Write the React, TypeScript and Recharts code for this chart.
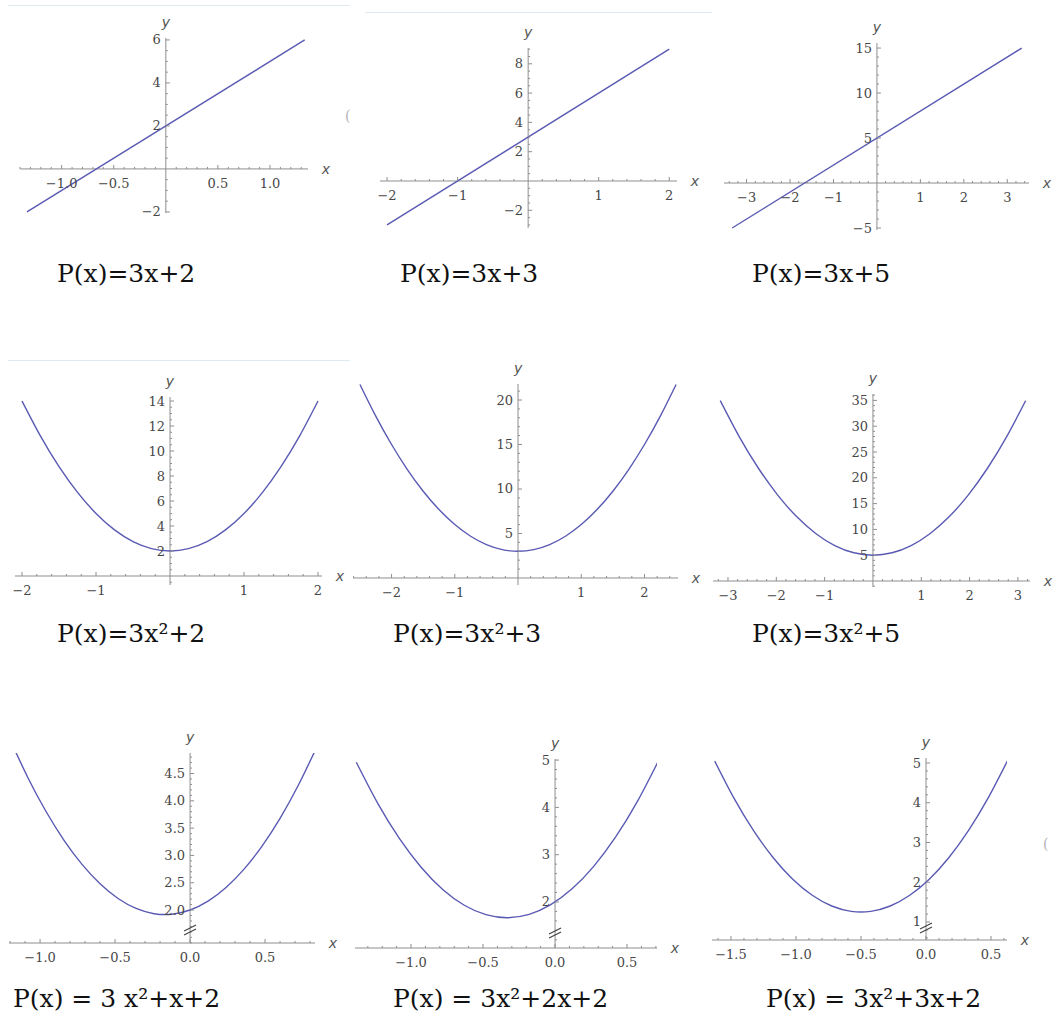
import React from "react";
import {
  LineChart,
  Line,
  XAxis,
  YAxis,
  ReferenceLine,
  ReferenceDot,
} from "recharts";

const CURVE = "#5a5ab4";
const AXIS = "#8e8e8e";
const TICK_TEXT = "#474747";
const TICK_FONT = "'DejaVu Serif', serif";
const CAPTION_FONT = "'DejaVu Serif', serif";

// P(x)=3x+2
const p1X = [-1.333, 1.333];
const p1Y = [-2, 6];
const p1XRange = [-1.4, 1.365];
const p1YRange = [-2.05, 6.09];
const p1XTicks = [-1, -0.5, 0.5, 1];
const p1XLabels = ["−1.0", "−0.5", "0.5", "1.0"];
const p1YTicks = [-2, 2, 4, 6];
const p1YLabels = ["−2", "2", "4", "6"];

// P(x)=3x+3
const p2X = [-2, 2];
const p2Y = [-3, 9];
const p2XRange = [-2.1, 2.11];
const p2YRange = [-3.21, 9.08];
const p2XTicks = [-2, -1, 1, 2];
const p2XLabels = ["−2", "−1", "1", "2"];
const p2YTicks = [-2, 2, 4, 6, 8];
const p2YLabels = ["−2", "2", "4", "6", "8"];

// P(x)=3x+5
const p3X = [-3.333, 3.333];
const p3Y = [-5, 15];
const p3XRange = [-3.52, 3.5];
const p3YRange = [-5.22, 15.56];
const p3XTicks = [-3, -2, -1, 1, 2, 3];
const p3XLabels = ["−3", "−2", "−1", "1", "2", "3"];
const p3YTicks = [-5, 5, 10, 15];
const p3YLabels = ["−5", "5", "10", "15"];

// P(x)=3x²+2
const p4X = [-2, -1.75, -1.5, -1.25, -1, -0.75, -0.5, -0.25, 0, 0.25, 0.5, 0.75, 1, 1.25, 1.5, 1.75, 2];
const p4Y = [14, 11.1875, 8.75, 6.6875, 5, 3.6875, 2.75, 2.1875, 2, 2.1875, 2.75, 3.6875, 5, 6.6875, 8.75, 11.1875, 14];
const p4XRange = [-2.095, 2.054];
const p4YRange = [-0.72, 14.32];
const p4XTicks = [-2, -1, 1, 2];
const p4XLabels = ["−2", "−1", "1", "2"];
const p4YTicks = [2, 4, 6, 8, 10, 12, 14];
const p4YLabels = ["2", "4", "6", "8", "10", "12", "14"];

// P(x)=3x²+3
const p5X = [-2.5, -2.25, -2, -1.75, -1.5, -1.25, -1, -0.75, -0.5, -0.25, 0, 0.25, 0.5, 0.75, 1, 1.25, 1.5, 1.75, 2, 2.25, 2.5];
const p5Y = [21.75, 18.1875, 15, 12.1875, 9.75, 7.6875, 6, 4.6875, 3.75, 3.1875, 3, 3.1875, 3.75, 4.6875, 6, 7.6875, 9.75, 12.1875, 15, 18.1875, 21.75];
const p5XRange = [-2.61, 2.53];
const p5YRange = [-0.79, 21.8];
const p5XTicks = [-2, -1, 1, 2];
const p5XLabels = ["−2", "−1", "1", "2"];
const p5YTicks = [5, 10, 15, 20];
const p5YLabels = ["5", "10", "15", "20"];

// P(x)=3x²+5
const p6X = [-3.16, -2.765, -2.37, -1.975, -1.58, -1.185, -0.79, -0.395, 0, 0.395, 0.79, 1.185, 1.58, 1.975, 2.37, 2.765, 3.16];
const p6Y = [34.957, 27.936, 21.851, 16.702, 12.489, 9.213, 6.872, 5.468, 5, 5.468, 6.872, 9.213, 12.489, 16.702, 21.851, 27.936, 34.957];
const p6XRange = [-3.31, 3.25];
const p6YRange = [-1.16, 36.24];
const p6XTicks = [-3, -2, -1, 1, 2, 3];
const p6XLabels = ["−3", "−2", "−1", "1", "2", "3"];
const p6YTicks = [5, 10, 15, 20, 25, 30, 35];
const p6YLabels = ["5", "10", "15", "20", "25", "30", "35"];

// P(x) = 3 x²+x+2
const p7X = [-1.2, -1.08, -0.96, -0.84, -0.72, -0.6, -0.48, -0.36, -0.24, -0.12, 0, 0.12, 0.24, 0.36, 0.48, 0.6, 0.72, 0.84];
const p7Y = [5.12, 4.4192, 3.8048, 3.2768, 2.8352, 2.48, 2.2112, 2.0288, 1.9328, 1.9232, 2, 2.1632, 2.4128, 2.7488, 3.1712, 3.68, 4.2752, 4.9568];
const p7XRange = [-1.207, 0.833];
const p7YRange = [1.396, 4.876];
const p7XTicks = [-1, -0.5, 0, 0.5];
const p7XLabels = ["−1.0", "−0.5", "0.0", "0.5"];
const p7YTicks = [2, 2.5, 3, 3.5, 4, 4.5];
const p7YLabels = ["2.0", "2.5", "3.0", "3.5", "4.0", "4.5"];
const p7Break = 1.634;

// P(x) = 3x²+2x+2
const p8X = [-1.38, -1.23, -1.08, -0.93, -0.78, -0.63, -0.48, -0.33, -0.18, -0.03, 0.12, 0.27, 0.42, 0.57, 0.72];
const p8Y = [4.9532, 4.0787, 3.3392, 2.7347, 2.2652, 1.9307, 1.7312, 1.6667, 1.7372, 1.9427, 2.2832, 2.7587, 3.3692, 4.1147, 4.9952];
const p8XRange = [-1.389, 0.708];
const p8YRange = [1.027, 5.023];
const p8XTicks = [-1, -0.5, 0, 0.5];
const p8XLabels = ["−1.0", "−0.5", "0.0", "0.5"];
const p8YTicks = [2, 3, 4, 5];
const p8YLabels = ["2", "3", "4", "5"];
const p8Break = 1.345;

// P(x) = 3x²+3x+2
const p9X = [-1.625, -1.475, -1.325, -1.175, -1.025, -0.875, -0.725, -0.575, -0.425, -0.275, -0.125, 0.025, 0.175, 0.325, 0.475, 0.625];
const p9Y = [5.0469, 4.1019, 3.2919, 2.6169, 2.0769, 1.6719, 1.4019, 1.2669, 1.2669, 1.4019, 1.6719, 2.0769, 2.6169, 3.2919, 4.1019, 5.0469];
const p9XRange = [-1.646, 0.623];
const p9YRange = [0.547, 5.126];
const p9XTicks = [-1.5, -1, -0.5, 0, 0.5];
const p9XLabels = ["−1.5", "−1.0", "−0.5", "0.0", "0.5"];
const p9YTicks = [1, 2, 3, 4, 5];
const p9YLabels = ["1", "2", "3", "4", "5"];
const p9Break = 0.849;

const captions = [
  "P(x)=3x+2",
  "P(x)=3x+3",
  "P(x)=3x+5",
  "P(x)=3x²+2",
  "P(x)=3x²+3",
  "P(x)=3x²+5",
  "P(x) = 3 x²+x+2",
  "P(x) = 3x²+2x+2",
  "P(x) = 3x²+3x+2",
];

const M = { top: 30, right: 30, bottom: 30, left: 40 };

// box = plot area [left, top, width, height] on the page
const panels: any[] = [
  { xs: p1X, ys: p1Y, xRange: p1XRange, yRange: p1YRange, xTicks: p1XTicks, xLabels: p1XLabels, yTicks: p1YTicks, yLabels: p1YLabels, xMinor: 0.1, yMinor: 0.5, box: [20, 38, 288, 175] },
  { xs: p2X, ys: p2Y, xRange: p2XRange, yRange: p2YRange, xTicks: p2XTicks, xLabels: p2XLabels, yTicks: p2YTicks, yLabels: p2YLabels, xMinor: 0.2, yMinor: 0.5, box: [380, 48, 297, 180] },
  { xs: p3X, ys: p3Y, xRange: p3XRange, yRange: p3YRange, xTicks: p3XTicks, xLabels: p3XLabels, yTicks: p3YTicks, yLabels: p3YLabels, xMinor: 0.2, yMinor: 1, box: [724, 43, 305, 187] },
  { xs: p4X, ys: p4Y, xRange: p4XRange, yRange: p4YRange, xTicks: p4XTicks, xLabels: p4XLabels, yTicks: p4YTicks, yLabels: p4YLabels, xMinor: 0.2, yMinor: 0.5, box: [15, 397, 307, 188] },
  { xs: p5X, ys: p5Y, xRange: p5XRange, yRange: p5YRange, xTicks: p5XTicks, xLabels: p5XLabels, yTicks: p5YTicks, yLabels: p5YLabels, xMinor: 0.2, yMinor: 1, box: [353, 384, 325, 201] },
  { xs: p6X, ys: p6Y, xRange: p6XRange, yRange: p6YRange, xTicks: p6XTicks, xLabels: p6XLabels, yTicks: p6YTicks, yLabels: p6YLabels, xMinor: 0.2, yMinor: 1, box: [713, 394, 317, 193] },
  { xs: p7X, ys: p7Y, xRange: p7XRange, yRange: p7YRange, xTicks: p7XTicks, xLabels: p7XLabels, yTicks: p7YTicks, yLabels: p7YLabels, xMinor: 0.1, yMinor: 0.1, brk: p7Break, box: [9, 753, 306, 190] },
  { xs: p8X, ys: p8Y, xRange: p8XRange, yRange: p8YRange, xTicks: p8XTicks, xLabels: p8XLabels, yTicks: p8YTicks, yLabels: p8YLabels, xMinor: 0.1, yMinor: 0.2, brk: p8Break, box: [355, 759, 302, 189] },
  { xs: p9X, ys: p9Y, xRange: p9XRange, yRange: p9YRange, xTicks: p9XTicks, xLabels: p9XLabels, yTicks: p9YTicks, yLabels: p9YLabels, xMinor: 0.1, yMinor: 0.2, brk: p9Break, box: [712, 758, 295, 182] },
];

// caption [left, top]
const captionPos = [
  [57, 261], [400, 261], [752, 261],
  [57, 621], [393, 621], [752, 621],
  [13, 986], [393, 986], [766, 986],
];

const minorTicks = (range: number[], step: number, majors: number[]) => {
  const out: number[] = [];
  const start = Math.ceil(range[0] / step - 1e-9);
  const end = Math.floor(range[1] / step + 1e-9);
  for (let k = start; k <= end; k++) {
    const v = +(k * step).toFixed(4);
    if (v !== 0 && !majors.some((m) => Math.abs(m - v) < 1e-6)) out.push(v);
  }
  return out;
};

const XTick = (props: any) => {
  const { cx, cy, len, label } = props;
  return (
    <g>
      <line x1={cx} y1={cy} x2={cx} y2={cy - len} stroke={AXIS} strokeWidth={1} />
      {label && (
        <text x={cx} y={cy + 19} textAnchor="middle" fontFamily={TICK_FONT} fontSize={13} fill={TICK_TEXT}>
          {label}
        </text>
      )}
    </g>
  );
};

const YTick = (props: any) => {
  const { cx, cy, len, label } = props;
  return (
    <g>
      <line x1={cx} y1={cy} x2={cx + len} y2={cy} stroke={AXIS} strokeWidth={1} />
      {label && (
        <text x={cx - 5} y={cy + 4.5} textAnchor="end" fontFamily={TICK_FONT} fontSize={13} fill={TICK_TEXT}>
          {label}
        </text>
      )}
    </g>
  );
};

const AxisName = (props: any) => {
  const { cx, cy, dx, dy, name } = props;
  return (
    <text x={cx + dx} y={cy + dy} textAnchor="middle" fontFamily="'DejaVu Sans', sans-serif" fontStyle="italic" fontSize={14} fill="#555">
      {name}
    </text>
  );
};

const BreakMark = (props: any) => {
  const { cx, cy } = props;
  return (
    <g stroke="#444" strokeWidth={1.2}>
      <line x1={cx - 6} y1={cy + 1} x2={cx + 6} y2={cy - 5} />
      <line x1={cx - 6} y1={cy + 5} x2={cx + 6} y2={cy - 1} />
    </g>
  );
};

const Panel = ({ p }: { p: any }) => {
  const data = p.xs.map((x: number, i: number) => ({ x, y: p.ys[i] }));
  const axisY = p.brk !== undefined ? p.yRange[0] : 0;
  const [left, top, w, h] = p.box;
  const xMinor = minorTicks(p.xRange, p.xMinor, p.xTicks);
  const yMinor = minorTicks(p.yRange, p.yMinor, p.yTicks);
  return (
    <div style={{ position: "absolute", left: left - M.left, top: top - M.top }}>
      <LineChart width={w + M.left + M.right} height={h + M.top + M.bottom} data={data} margin={M}>
        <XAxis dataKey="x" type="number" domain={p.xRange} allowDataOverflow hide />
        <YAxis dataKey="y" type="number" domain={p.yRange} allowDataOverflow hide />
        <ReferenceLine y={axisY} stroke={AXIS} strokeWidth={1} ifOverflow="visible" />
        <ReferenceLine x={0} stroke={AXIS} strokeWidth={1} ifOverflow="visible" />
        {xMinor.map((v) => (
          <ReferenceDot key={"xm" + v} x={v} y={axisY} ifOverflow="visible" shape={(s: any) => <XTick cx={s.cx} cy={s.cy} len={2} />} />
        ))}
        {yMinor.map((v) => (
          <ReferenceDot key={"ym" + v} x={0} y={v} ifOverflow="visible" shape={(s: any) => <YTick cx={s.cx} cy={s.cy} len={2} />} />
        ))}
        {p.xTicks.map((v: number, i: number) => (
          <ReferenceDot key={"x" + v} x={v} y={axisY} ifOverflow="visible" shape={(s: any) => <XTick cx={s.cx} cy={s.cy} len={4} label={p.xLabels[i]} />} />
        ))}
        {p.yTicks.map((v: number, i: number) => (
          <ReferenceDot key={"y" + v} x={0} y={v} ifOverflow="visible" shape={(s: any) => <YTick cx={s.cx} cy={s.cy} len={4} label={p.yLabels[i]} />} />
        ))}
        {p.brk !== undefined && (
          <ReferenceDot x={0} y={p.brk} ifOverflow="visible" shape={(s: any) => <BreakMark cx={s.cx} cy={s.cy} />} />
        )}
        <ReferenceDot x={p.xRange[1]} y={axisY} ifOverflow="visible" shape={(s: any) => <AxisName cx={s.cx} cy={s.cy} dx={18} dy={5} name="x" />} />
        <ReferenceDot x={0} y={p.yRange[1]} ifOverflow="visible" shape={(s: any) => <AxisName cx={s.cx} cy={s.cy} dx={0} dy={-11} name="y" />} />
        <Line type="natural" dataKey="y" dot={false} stroke={CURVE} strokeWidth={1.4} isAnimationActive={false} />
      </LineChart>
    </div>
  );
};

export default function App() {
  return (
    <div style={{ position: "absolute", left: 0, top: 0, width: 1053, height: 1023, overflow: "hidden", background: "#fff" }}>
      {/* faint strips left over from the screenshot */}
      <div style={{ position: "absolute", left: 8, top: 5, width: 342, height: 1, background: "#dfeaf0" }} />
      <div style={{ position: "absolute", left: 365, top: 12, width: 347, height: 1, background: "#dfeaf0" }} />
      <div style={{ position: "absolute", left: 8, top: 360, width: 342, height: 1, background: "#dfeaf0" }} />
      <div style={{ position: "absolute", left: 345, top: 108, fontFamily: CAPTION_FONT, fontSize: 14, color: "#b5b5b5" }}>(</div>
      <div style={{ position: "absolute", left: 1043, top: 836, fontFamily: CAPTION_FONT, fontSize: 14, color: "#b5b5b5" }}>(</div>

      {panels.map((p, i) => (
        <Panel key={i} p={p} />
      ))}

      {captions.map((c, i) => (
        <div
          key={c}
          style={{
            position: "absolute",
            left: captionPos[i][0],
            top: captionPos[i][1],
            fontFamily: CAPTION_FONT,
            fontSize: 25,
            lineHeight: "25px",
            color: "#111",
            whiteSpace: "nowrap",
          }}
        >
          {c}
        </div>
      ))}
    </div>
  );
}
